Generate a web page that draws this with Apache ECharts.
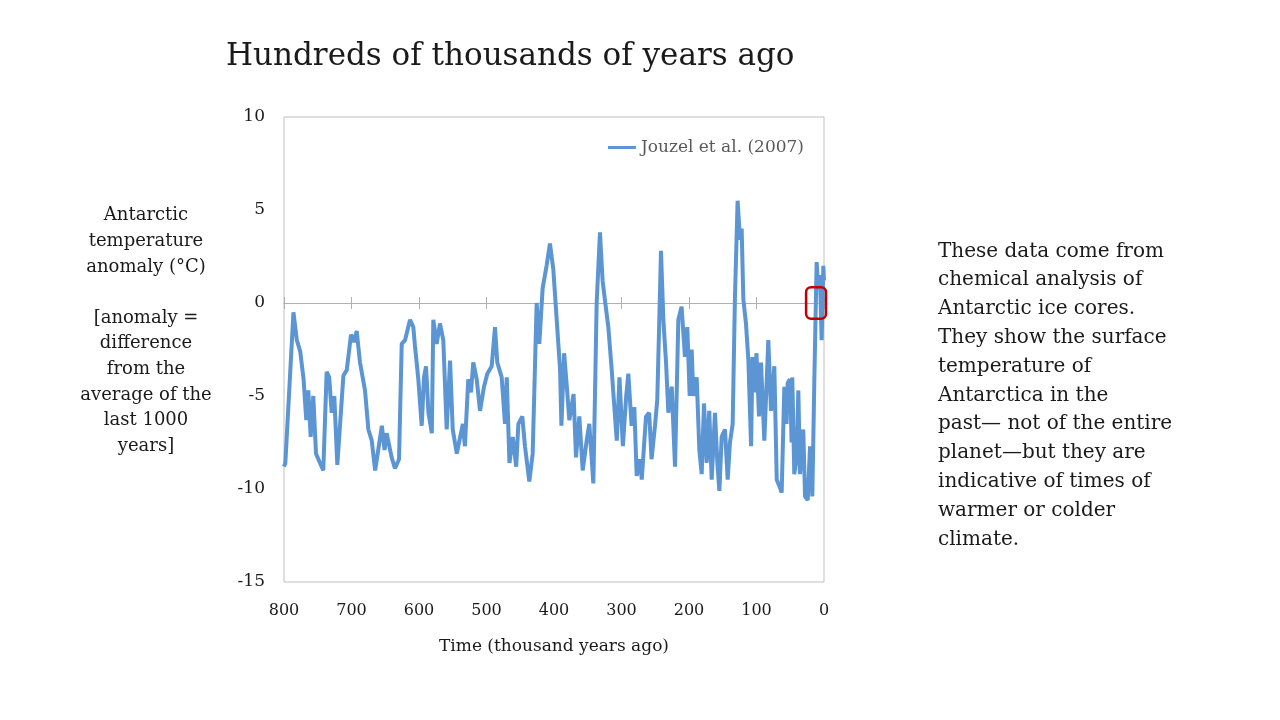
<!DOCTYPE html>
<html>
<head>
<meta charset="utf-8">
<script src="https://cdn.jsdelivr.net/npm/echarts@6/dist/echarts.min.js"></script>
<style>
  html, body { margin: 0; padding: 0; background: #fff; }
  #main { width: 1280px; height: 720px; }
</style>
</head>
<body>
<div id="main"></div>
<script>
// thousand years ago
var ages = [800, 798, 786, 781, 776, 771, 767, 764, 760.5, 756.6, 752.6, 746.7, 741.8, 736.8, 733, 729.4, 725.5, 721,
  712, 707, 700.7, 696, 692.3, 687.4, 680, 675, 670, 665, 660, 655, 651, 648, 640.5, 635.6, 629.6, 625.6, 620.7,
  613.3, 608.4, 606, 601, 596, 592.6, 589.6, 586, 581, 578.8, 573.8, 569, 564, 559, 554, 550, 544, 539, 535, 532,
  527, 523, 519.6, 514.5, 509.6, 503.7, 498.8, 492.3, 487.4, 484, 477.5, 472.6, 470, 466, 461, 456, 452.8, 447,
  443, 436.6, 431.6, 425.7, 421.8, 416.8, 411, 406, 401, 396, 391, 389, 385, 381, 377.3, 371, 367.4, 362.5, 357.5,
  351.6, 347.7, 341.7, 336.8, 331.9, 328, 324, 319.5, 314.5, 311, 307, 303, 298, 293, 289.9, 285, 281, 277.5,
  272.6, 270, 263.7, 259, 255.5, 250.4, 247, 244, 241.5, 238, 234, 230.6, 225.6, 220.7, 215.8, 211, 206, 202.5,
  199, 196, 193.6, 188.6, 184.7, 181.2, 177.8, 173.8, 170, 166.4, 161.5, 158, 155, 151.6, 146.7, 142.7, 139.3,
  135.3, 132, 128, 124.4, 122, 119.5, 115.6, 112, 108, 106, 103, 100, 96.3, 93.3, 88.4, 82.5, 78.5, 73.6, 70,
  65.5, 62.7, 58.8, 55.5, 53.8, 50.4, 48, 47, 44, 40.5, 38, 35.6, 30.7, 28.1, 24.1, 20.7, 17.3, 14.4, 10.9, 8.4,
  6, 3.5, 1, 0];
// Antarctic temperature anomaly (°C)
var temps = [-8.8, -8.6, -0.5, -2.0, -2.6, -4.1, -6.3, -4.7, -7.2, -5.0, -8.1, -8.6, -9.0, -3.7, -4.0, -5.9, -5.0, -8.7,
  -3.9, -3.6, -1.7, -2.1, -1.5, -3.2, -4.7, -6.8, -7.4, -9.0, -7.8, -6.6, -7.9, -7.0, -8.3, -8.9, -8.4, -2.2, -2.0,
  -0.9, -1.3, -2.3, -4.1, -6.6, -4.0, -3.4, -5.9, -7.0, -0.9, -2.2, -1.1, -2.0, -6.8, -3.1, -6.8, -8.1, -7.2, -6.5, -7.7,
  -4.1, -4.8, -3.2, -4.1, -5.8, -4.5, -3.8, -3.4, -1.3, -3.2, -4.0, -6.5, -4.0, -8.6, -7.2, -8.8, -6.5, -6.1,
  -7.7, -9.6, -8.1, 0.0, -2.2, 0.8, 2.0, 3.2, 1.8, -0.9, -3.6, -6.6, -2.7, -4.5, -6.3, -4.9, -8.3, -6.1, -9.0,
  -7.4, -6.5, -9.7, 0.0, 3.8, 1.2, 0.0, -1.3, -3.6, -5.4, -7.4, -4.0, -7.7, -5.0, -3.8, -6.6, -5.6, -9.3,
  -8.4, -9.5, -6.1, -5.9, -8.4, -6.6, -5.2, -0.9, 2.8, -0.9, -3.2, -5.9, -4.5, -8.8, -0.9, -0.2, -2.9, -1.3,
  -5.0, -2.5, -5.0, -4.0, -7.9, -9.2, -5.4, -8.6, -5.8, -9.5, -5.9, -8.6, -10.1, -7.2, -6.8, -9.5, -7.5,
  -6.5, 0.2, 5.5, 3.4, 4.0, 0.2, -1.1, -3.1, -7.7, -2.9, -4.8, -2.7, -6.1, -3.2, -7.4, -2.0, -5.8, -3.4, -9.5,
  -9.9, -10.2, -4.5, -6.5, -4.3, -4.1, -7.5, -4.0, -9.2, -8.3, -4.7, -9.2, -6.8, -10.4, -10.6, -7.7, -10.4, -4.3, 2.2, 0.7,
  1.5, -2.0, 2.0, 1.2];
var xTicks = [800, 700, 600, 500, 400, 300, 200, 100, 0];
var yTicks = [10, 5, 0, -5, -10, -15];
var seriesName = 'Jouzel et al. (2007)';

var FONT = 'DejaVu Serif';
var chart = echarts.init(document.getElementById('main'));

var points = ages.map(function (a, i) { return [a, temps[i]]; });

var gridBox = { left: 284, right: 456, top: 117, bottom: 138 };

function scaleX(extra) {
  return Object.assign({
    type: 'value',
    min: xTicks[xTicks.length - 1],
    max: xTicks[0],
    interval: 100,
    inverse: true,
    splitLine: { show: false }
  }, extra);
}
function scaleY(extra) {
  return Object.assign({
    type: 'value',
    min: yTicks[yTicks.length - 1],
    max: yTicks[0],
    interval: 5,
    axisLine: { show: false },
    axisTick: { show: false },
    splitLine: { show: false }
  }, extra);
}

chart.setOption({
  animation: false,
  title: {
    text: 'Hundreds of thousands of years ago',
    left: 221,
    top: 36,
    textStyle: { fontFamily: FONT, fontSize: 31, fontWeight: 'normal', color: '#1a1a1a' }
  },
  legend: {
    data: [seriesName],
    right: 471,
    top: 134,
    icon: 'rect',
    itemWidth: 28,
    itemHeight: 3,
    itemGap: 6,
    textStyle: { fontFamily: FONT, fontSize: 17, color: '#595959' }
  },
  grid: [
    Object.assign({ show: true, borderColor: '#bfbfbf', borderWidth: 1 }, gridBox),
    Object.assign({ show: false }, gridBox)
  ],
  xAxis: [
    scaleX({
      gridIndex: 0,
      position: 'bottom',
      axisLine: { show: false, onZero: false },
      axisTick: { show: false },
      axisLabel: { margin: 21, fontFamily: FONT, fontSize: 16, color: '#1a1a1a' },
      name: 'Time (thousand years ago)',
      nameLocation: 'middle',
      nameGap: 56,
      nameTextStyle: { fontFamily: FONT, fontSize: 17, color: '#1a1a1a' }
    }),
    // zero line with ticks pointing down
    scaleX({
      gridIndex: 0,
      position: 'top',
      axisLine: { show: true, onZero: true, lineStyle: { color: '#b0b0b0', width: 1 } },
      axisTick: { show: true, inside: true, length: 6, lineStyle: { color: '#b0b0b0' } },
      axisLabel: { show: false }
    }),
    // same zero line on the overlay grid, ticks pointing up
    scaleX({
      gridIndex: 1,
      position: 'top',
      axisLine: { show: true, onZero: true, lineStyle: { color: '#b0b0b0', width: 1 } },
      axisTick: { show: true, inside: false, length: 6, lineStyle: { color: '#b0b0b0' } },
      axisLabel: { show: false }
    })
  ],
  yAxis: [
    scaleY({
      gridIndex: 0,
      axisLabel: { margin: 19, fontFamily: FONT, fontSize: 17, color: '#1a1a1a' }
    }),
    scaleY({ gridIndex: 1, axisLabel: { show: false } })
  ],
  graphic: [
    {
      id: 'yname',
      type: 'text',
      x: 146, y: 203,
      style: {
        text: 'Antarctic\ntemperature\nanomaly (°C)\n\n[anomaly =\ndifference\nfrom the\naverage of the\nlast 1000\nyears]',
        x: 0, y: 0,
        align: 'center',
        font: '18px "' + FONT + '"',
        lineHeight: 25.6,
        fill: '#1a1a1a'
      }
    },
    {
      id: 'note',
      type: 'text',
      x: 938, y: 237,
      style: {
        text: 'These data come from\nchemical analysis of\nAntarctic ice cores.\nThey show the surface\ntemperature of\nAntarctica in the\npast\u2014 not of the entire\nplanet\u2014but they are\nindicative of times of\nwarmer or colder\nclimate.',
        font: '20px "' + FONT + '"',
        lineHeight: 28.8,
        fill: '#1a1a1a'
      }
    }
  ],
  series: [{
    name: seriesName,
    type: 'line',
    xAxisIndex: 0,
    yAxisIndex: 0,
    data: points,
    showSymbol: false,
    lineStyle: { color: '#5b95d3', width: 4 },
    itemStyle: { color: '#5b95d3' },
    z: 5
  }]
});

// red highlight box around the present-day value
var p1 = chart.convertToPixel({ xAxisIndex: 0, yAxisIndex: 0 }, [26.5, 0.85]);
var p2 = chart.convertToPixel({ xAxisIndex: 0, yAxisIndex: 0 }, [-3, -0.85]);
chart.setOption({
  graphic: [{
    id: 'mark',
    type: 'rect',
    shape: { x: p1[0], y: p1[1], width: p2[0] - p1[0], height: p2[1] - p1[1], r: 5 },
    style: { fill: 'none', stroke: '#c00000', lineWidth: 2.5 },
    z: 10
  }]
});
</script>
</body>
</html>
